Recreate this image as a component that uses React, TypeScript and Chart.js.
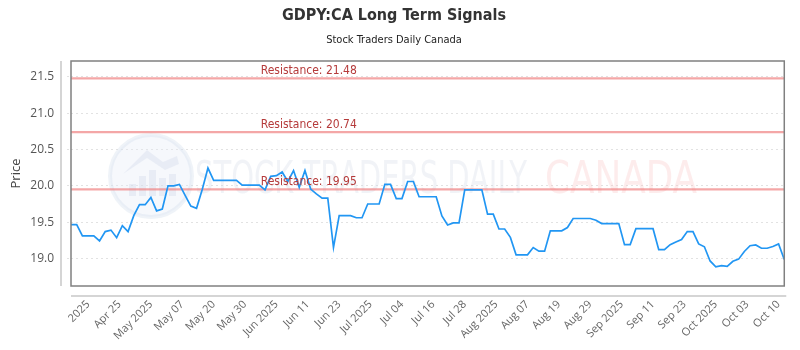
import React, { useEffect, useRef } from 'react';
import { Chart, registerables } from 'chart.js';

Chart.register(...registerables);

const TITLE = 'GDPY:CA Long Term Signals';
const SUBTITLE = 'Stock Traders Daily Canada';
const Y_AXIS_TITLE = 'Price';
const WATERMARK_MAIN = 'STOCK TRADERS DAILY';
const WATERMARK_COUNTRY = 'CANADA';

const prices: number[] = [
  19.465, 19.465, 19.31, 19.31, 19.31, 19.24, 19.37, 19.39, 19.285, 19.45,
  19.37, 19.59, 19.74, 19.74, 19.84, 19.655, 19.68, 20.0, 20.0, 20.02,
  19.87, 19.72, 19.69, 19.95, 20.245, 20.075, 20.075, 20.075, 20.075, 20.075,
  20.01, 20.01, 20.01, 20.01, 19.945, 20.13, 20.14, 20.19, 20.06, 20.21,
  19.98, 20.21, 19.955, 19.89, 19.83, 19.83, 19.15, 19.59, 19.59, 19.59,
  19.56, 19.56, 19.75, 19.75, 19.75, 20.02, 20.02, 19.825, 19.825, 20.06,
  20.06, 19.85, 19.85, 19.85, 19.85, 19.585, 19.46, 19.49, 19.49, 19.945,
  19.945, 19.945, 19.945, 19.61, 19.61, 19.405, 19.405, 19.29, 19.05, 19.05,
  19.05, 19.15, 19.1, 19.1, 19.38, 19.38, 19.38, 19.425, 19.55, 19.55,
  19.55, 19.55, 19.525, 19.48, 19.48, 19.48, 19.48, 19.19, 19.19, 19.41,
  19.41, 19.41, 19.41, 19.12, 19.12, 19.19, 19.225, 19.26, 19.37, 19.37,
  19.2, 19.16, 18.965, 18.885, 18.9, 18.89, 18.96, 18.99, 19.095, 19.175,
  19.185, 19.14, 19.14, 19.165, 19.2, 18.985,
];

const xTickLabels: string[] = [
  '2025', 'Apr 25', 'May 2025', 'May 07', 'May 20', 'May 30', 'Jun 2025',
  'Jun 11', 'Jun 23', 'Jul 2025', 'Jul 04', 'Jul 16', 'Jul 28', 'Aug 2025',
  'Aug 07', 'Aug 19', 'Aug 29', 'Sep 2025', 'Sep 11', 'Sep 23', 'Oct 2025',
  'Oct 03', 'Oct 10',
];

const yTickValues: number[] = [19.0, 19.5, 20.0, 20.5, 21.0, 21.5];
const resistanceLevels: number[] = [21.48, 20.74, 19.95];

const Y_MIN = 18.62;
const Y_MAX = 21.72;
const FIRST_TICK_INDEX = 3;
const LAST_TICK_INDEX = 124;

const COND = '"DejaVu Sans Condensed", "DejaVu Sans", sans-serif';
const OPEN = '"Open Sans", sans-serif';

const backgroundPlugin = {
  id: 'bgDecor',
  beforeDatasetsDraw(chart: any) {
    const { ctx, chartArea, scales } = chart;
    const { left, right, top } = chartArea;
    ctx.save();
    // watermark logo
    const cx = left + 80;
    const cy = top + 115;
    const r = 41;
    ctx.beginPath();
    ctx.arc(cx, cy, r, 0, Math.PI * 2);
    ctx.fillStyle = 'rgba(228,235,245,0.35)';
    ctx.fill();
    ctx.lineWidth = 4;
    ctx.strokeStyle = 'rgba(210,220,235,0.35)';
    ctx.stroke();
    ctx.fillStyle = 'rgba(205,216,232,0.35)';
    ctx.beginPath();
    ctx.moveTo(cx - 28, cy - 2);
    ctx.lineTo(cx - 4, cy - 26);
    ctx.lineTo(cx + 12, cy - 14);
    ctx.lineTo(cx + 26, cy - 20);
    ctx.lineTo(cx + 28, cy - 12);
    ctx.lineTo(cx + 14, cy - 6);
    ctx.lineTo(cx - 4, cy - 18);
    ctx.closePath();
    ctx.fill();
    const bars = [[-22, 12], [-12, 20], [-2, 26], [8, 18], [18, 22]];
    for (const [bx, bh] of bars) {
      ctx.fillRect(cx + bx, cy + 26 - bh - 6, 7, bh);
    }
    // watermark text
    const baseline = top + 132;
    ctx.font = `44px ${COND}`;
    ctx.textBaseline = 'alphabetic';
    ctx.textAlign = 'left';
    let w = ctx.measureText(WATERMARK_MAIN).width;
    ctx.save();
    ctx.translate(left + 124, baseline);
    ctx.scale(332 / w, 1);
    ctx.fillStyle = 'rgba(210,218,230,0.32)';
    ctx.fillText(WATERMARK_MAIN, 0, 0);
    ctx.restore();
    w = ctx.measureText(WATERMARK_COUNTRY).width;
    ctx.save();
    ctx.translate(left + 474, baseline);
    ctx.scale(152 / w, 1);
    ctx.fillStyle = 'rgba(248,195,195,0.32)';
    ctx.fillText(WATERMARK_COUNTRY, 0, 0);
    ctx.restore();

    // resistance lines
    const y = scales.y;
    ctx.strokeStyle = 'rgba(238,120,120,0.65)';
    ctx.lineWidth = 2.2;
    for (const lv of resistanceLevels) {
      const py = y.getPixelForValue(lv);
      ctx.beginPath();
      ctx.moveTo(left, py);
      ctx.lineTo(right, py);
      ctx.stroke();
    }
    ctx.restore();
  },
  afterDatasetsDraw(chart: any) {
    const { ctx, chartArea, scales } = chart;
    const { left, right, top, bottom } = chartArea;
    ctx.save();
    const y = scales.y;
    ctx.font = `12px ${COND}`;
    ctx.fillStyle = '#b53a3a';
    ctx.textAlign = 'left';
    ctx.textBaseline = 'alphabetic';
    for (const lv of resistanceLevels) {
      const py = y.getPixelForValue(lv);
      ctx.fillText(`Resistance: ${lv.toFixed(2)}`, left + (right - left) * 0.266, py - 4);
    }
    // frame
    ctx.strokeStyle = '#808080';
    ctx.lineWidth = 1.5;
    ctx.strokeRect(left, top, right - left, bottom - top);
    // outer axis lines
    ctx.strokeStyle = '#c8c8c8';
    ctx.lineWidth = 1.5;
    ctx.beginPath();
    ctx.moveTo(left - 10, top);
    ctx.lineTo(left - 10, bottom);
    ctx.moveTo(left, bottom + 10);
    ctx.lineTo(right + 2, bottom + 10);
    ctx.stroke();
    ctx.restore();
  },
};

export default function App() {
  const ref = useRef<HTMLCanvasElement | null>(null);
  useEffect(() => {
    document.body.style.margin = '0';
    if (!ref.current) return;
    const chart = new Chart(ref.current, {
      type: 'line',
      data: {
        datasets: [
          {
            label: 'Price',
            data: prices.map((v, i) => ({ x: i, y: v })),
            borderColor: '#2196f3',
            borderWidth: 1.7,
            pointRadius: 0,
            tension: 0,
            fill: false,
          },
        ],
      },
      options: {
        responsive: false,
        animation: false,
        layout: { padding: { left: 0, right: 12, top: 0, bottom: 0 } },
        plugins: {
          legend: { display: false },
          tooltip: { enabled: false },
          title: {
            display: true,
            text: TITLE,
            color: '#333',
            font: { family: COND, size: 16, weight: 'bold' },
            padding: { top: 6, bottom: 4 },
          },
          subtitle: {
            display: true,
            text: SUBTITLE,
            color: '#222',
            font: { family: COND, size: 11 },
            padding: { top: 4, bottom: 14.6 },
          },
        },
        scales: {
          x: {
            type: 'linear',
            min: 0,
            max: prices.length - 1,
            afterBuildTicks: (scale: any) => {
              const n = xTickLabels.length;
              scale.ticks = xTickLabels.map((_, k) => ({
                value: FIRST_TICK_INDEX + (k * (LAST_TICK_INDEX - FIRST_TICK_INDEX)) / (n - 1),
              }));
            },
            afterFit: (scale: any) => {
              scale.height = 64;
            },
            grid: { display: false, drawTicks: false },
            border: { display: false },
            ticks: {
              autoSkip: false,
              maxRotation: 45,
              minRotation: 45,
              padding: 12,
              color: '#666',
              font: { family: OPEN, size: 11 },
              callback: (_v: any, i: number) => xTickLabels[i],
            },
          },
          y: {
            type: 'linear',
            min: Y_MIN,
            max: Y_MAX,
            afterBuildTicks: (scale: any) => {
              scale.ticks = yTickValues.map((v) => ({ value: v }));
            },
            afterFit: (scale: any) => {
              scale.width = 71;
            },
            grid: {
              color: '#e2e2e2',
              lineWidth: 1,
              drawTicks: true,
              tickLength: 4,
              tickBorderDash: [2, 3],
            },
            border: { display: false, dash: [2, 3] },
            ticks: {
              padding: 13,
              color: '#555',
              font: { family: OPEN, size: 12 },
              callback: (v: any) => Number(v).toFixed(1),
            },
            title: {
              display: true,
              text: Y_AXIS_TITLE,
              color: '#444',
              font: { family: OPEN, size: 13 },
              padding: { top: 8, bottom: 0 },
            },
          },
        },
      },
      plugins: [backgroundPlugin],
    } as any);
    return () => chart.destroy();
  }, []);
  return (
    <div style={{ width: 800, height: 350 }}>
      <canvas ref={ref} width={800} height={350} />
    </div>
  );
}
